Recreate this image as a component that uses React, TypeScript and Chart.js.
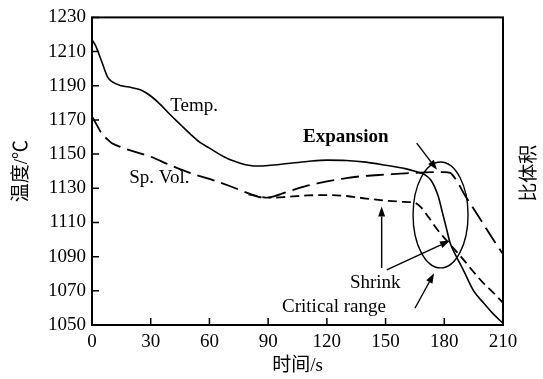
import React, { useEffect, useRef } from "react";
import { Chart, registerables } from "chart.js";

Chart.register(...registerables);

// Temperature curve (°C) against time (s)
const tempTime = [0, 2, 5, 8, 10, 15, 20, 25, 30, 35, 40, 45, 50, 55, 60, 65, 70, 75, 80, 85, 90, 100, 110, 120, 130, 140, 150, 160, 165, 170, 173, 175, 177, 179, 181, 183, 186, 190, 195, 200, 205, 210];
const tempValue = [1217, 1213, 1204, 1195, 1192.5, 1190, 1189, 1187.5, 1184, 1179, 1173, 1167.5, 1162, 1157, 1153.5, 1150, 1147, 1145, 1143.5, 1143, 1143.3, 1144.5, 1145.7, 1146.5, 1146.3, 1145.3, 1143.5, 1141.5, 1140, 1138, 1135, 1131, 1125, 1116, 1107, 1098, 1090.5, 1081.5, 1070, 1063, 1056.5, 1051];

// Specific volume curve (expansion branch)
const volTime = [0, 2, 5, 8, 10, 15, 20, 25, 30, 40, 50, 60, 70, 80, 85, 88, 90, 100, 110, 120, 130, 140, 150, 160, 170, 180, 183, 186, 190, 195, 200, 205, 210];
const volValue = [1172, 1168, 1162, 1158.5, 1156.5, 1154, 1152, 1150.3, 1148.5, 1143.5, 1139, 1135.5, 1131.5, 1127, 1125, 1124.5, 1124.6, 1128, 1131.5, 1134, 1136, 1137.3, 1138, 1138.7, 1139.3, 1139.5, 1139, 1135, 1127, 1118, 1109, 1100, 1091.5];

// Specific volume curve (shrink branch)
const shrinkTime = [80, 85, 90, 100, 110, 120, 130, 140, 150, 160, 165, 168, 172, 176, 180, 185, 190, 195, 200, 205, 210];
const shrinkValue = [1126.5, 1125.3, 1124.5, 1125, 1125.8, 1126, 1125.5, 1124, 1122.8, 1122, 1121.5, 1119, 1113, 1106.5, 1101, 1094.5, 1088, 1081, 1074.5, 1069, 1063];

// Axis ranges
const xMin = 0, xMax = 210, xStep = 30;
const yMin = 1050, yMax = 1230, yStep = 20;

// Text labels in data coordinates [text, t, value, bold]
const noteLabels: [string, number, number, boolean][] = [
  ["Temp.", 40, 1178, false],
  ["Sp. Vol.", 19, 1136, false],
  ["Expansion", 107.8, 1160, true],
  ["Shrink", 131.8, 1074.6, false],
  ["Critical range", 97.1, 1060.8, false],
];

// Arrows [fromT, fromV, toT, toV]
const arrows: [number, number, number, number][] = [
  [165.9, 1156.4, 176.3, 1140.8],
  [148, 1083.4, 148, 1119.3],
  [150.6, 1082.2, 182.9, 1099.4],
  [165, 1059.8, 174.8, 1080.3],
];

// Critical range ellipse: centre t, centre value, half width (s), half height (value)
const ellipseSpec = [178.1, 1114.4, 14.05, 31];

const xTitle = "时间/s";
const yTitle = "温度/℃";
const y2Title = "比体积";

const FONT = '"Liberation Serif", "Times New Roman", "Noto Sans CJK SC", serif';

const toPoints = (ts: number[], vs: number[]) => ts.map((x, i) => ({ x, y: vs[i] }));

const annotate = {
  id: "annotate",
  afterDraw(chart: any) {
    const { ctx, chartArea: a } = chart;
    const xs = chart.scales.x;
    const ys = chart.scales.y;
    const px = (t: number) => xs.getPixelForValue(t);
    const py = (v: number) => ys.getPixelForValue(v);
    ctx.save();
    ctx.strokeStyle = "#000";
    ctx.fillStyle = "#000";

    // frame
    ctx.lineWidth = 2;
    ctx.strokeRect(a.left, a.top, a.right - a.left, a.bottom - a.top);

    // inward tick marks
    ctx.lineWidth = 1.5;
    ctx.beginPath();
    xs.ticks.forEach((tk: any) => {
      const x = px(tk.value);
      ctx.moveTo(x, a.bottom);
      ctx.lineTo(x, a.bottom - 7);
    });
    ys.ticks.forEach((tk: any) => {
      const y = py(tk.value);
      ctx.moveTo(a.left, y);
      ctx.lineTo(a.left + 7, y);
    });
    ctx.stroke();

    // text labels
    ctx.textBaseline = "middle";
    ctx.textAlign = "left";
    noteLabels.forEach(([text, t, v, bold]) => {
      ctx.font = `${bold ? "bold " : ""}19px ${FONT}`;
      ctx.fillText(text, px(t), py(v));
    });

    // ellipse
    const [et, ev, rt, rv] = ellipseSpec;
    ctx.lineWidth = 1.4;
    ctx.beginPath();
    ctx.ellipse(px(et), py(ev), Math.abs(px(et + rt) - px(et)), Math.abs(py(ev + rv) - py(ev)), 0, 0, Math.PI * 2);
    ctx.stroke();

    // arrows
    arrows.forEach(([t0, v0, t1, v1]) => {
      const x0 = px(t0), y0 = py(v0), x1 = px(t1), y1 = py(v1);
      const ang = Math.atan2(y1 - y0, x1 - x0);
      const len = 10, half = 3.5;
      const bx = x1 - len * Math.cos(ang), by = y1 - len * Math.sin(ang);
      ctx.lineWidth = 1.4;
      ctx.beginPath();
      ctx.moveTo(x0, y0);
      ctx.lineTo(bx, by);
      ctx.stroke();
      ctx.beginPath();
      ctx.moveTo(x1, y1);
      ctx.lineTo(bx + half * Math.sin(ang), by - half * Math.cos(ang));
      ctx.lineTo(bx - half * Math.sin(ang), by + half * Math.cos(ang));
      ctx.closePath();
      ctx.fill();
    });

    // axis titles
    ctx.font = `19px ${FONT}`;
    ctx.textAlign = "center";
    ctx.fillText(xTitle, (a.left + a.right) / 2, 366);
    const midY = (a.top + a.bottom) / 2;
    ctx.save();
    ctx.translate(22, midY);
    ctx.rotate(-Math.PI / 2);
    ctx.fillText(yTitle, 0, 0);
    ctx.restore();
    ctx.save();
    ctx.translate(530, midY + 2);
    ctx.rotate(-Math.PI / 2);
    ctx.fillText(y2Title, 0, 0);
    ctx.restore();

    ctx.restore();
  },
};

export default function App() {
  const ref = useRef<HTMLCanvasElement | null>(null);
  useEffect(() => {
    if (!ref.current) return;
    const tickFont = { family: FONT, size: 19 };
    const plain = (v: any) => String(v);
    const line = { borderColor: "#000", pointRadius: 0, fill: false, cubicInterpolationMode: "monotone" as const };
    const chart = new Chart(ref.current, {
      type: "line",
      data: {
        datasets: [
          { ...line, label: "Temp.", data: toPoints(tempTime, tempValue), borderWidth: 1.6 },
          { ...line, label: "Sp. Vol.", data: toPoints(volTime, volValue), borderWidth: 1.8, borderDash: [18, 7] },
          { ...line, label: "Shrink", data: toPoints(shrinkTime, shrinkValue), borderWidth: 1.8, borderDash: [9, 5] },
        ],
      },
      options: {
        responsive: false,
        animation: false,
        devicePixelRatio: 1,
        layout: { padding: { top: 17, right: 40, left: 0, bottom: 0 } },
        plugins: { legend: { display: false }, tooltip: { enabled: false } },
        scales: {
          x: {
            type: "linear",
            min: xMin,
            max: xMax,
            ticks: { stepSize: xStep, font: tickFont, color: "#000", padding: 6, maxRotation: 0, callback: plain },
            grid: { display: false, drawTicks: false },
            border: { display: false },
            afterFit: (s: any) => { s.height = 54; },
          },
          y: {
            type: "linear",
            min: yMin,
            max: yMax,
            ticks: { stepSize: yStep, font: tickFont, color: "#000", padding: 6, callback: plain },
            grid: { display: false, drawTicks: false },
            border: { display: false },
            afterFit: (s: any) => { s.width = 92; },
          },
        },
      },
      plugins: [annotate],
    });
    return () => chart.destroy();
  }, []);
  return (
    <div style={{ position: "fixed", left: 0, top: 0, width: 543, height: 379, background: "#fff" }}>
      <canvas ref={ref} width={543} height={379} />
    </div>
  );
}
